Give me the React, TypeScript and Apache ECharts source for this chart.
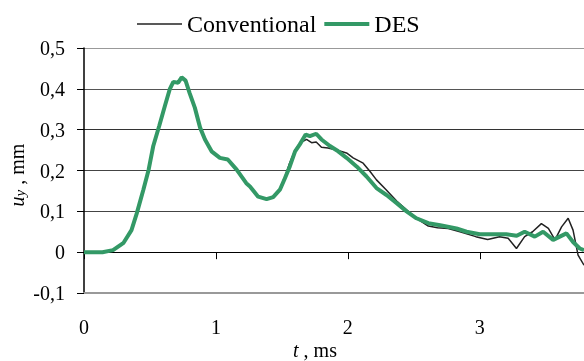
import React, { useEffect, useRef } from "react";
import * as echarts from "echarts";

// time (ms) and displacement (mm)
const tConventional = [0, 0.14, 0.22, 0.3, 0.36, 0.4, 0.45, 0.49, 0.525, 0.57, 0.613, 0.65, 0.677, 0.714, 0.74, 0.77, 0.8, 0.84, 0.88, 0.917, 0.967, 1.03, 1.09, 1.157, 1.23, 1.258, 1.32, 1.384, 1.434, 1.485, 1.523, 1.555, 1.6, 1.636, 1.687, 1.725, 1.76, 1.8, 1.85, 1.914, 1.99, 2.04, 2.116, 2.167, 2.217, 2.29, 2.37, 2.445, 2.52, 2.61, 2.68, 2.76, 2.85, 2.97, 3.06, 3.15, 3.215, 3.278, 3.34, 3.4, 3.467, 3.52, 3.57, 3.62, 3.67, 3.707, 3.745, 3.79];
const uConventional = [0, 0, 0.005, 0.023, 0.054, 0.095, 0.153, 0.202, 0.26, 0.309, 0.358, 0.399, 0.417, 0.415, 0.428, 0.42, 0.39, 0.354, 0.305, 0.276, 0.247, 0.231, 0.227, 0.202, 0.169, 0.161, 0.136, 0.13, 0.135, 0.155, 0.185, 0.215, 0.25, 0.267, 0.276, 0.268, 0.27, 0.257, 0.255, 0.25, 0.243, 0.231, 0.218, 0.198, 0.177, 0.153, 0.125, 0.104, 0.083, 0.064, 0.06, 0.058, 0.05, 0.038, 0.031, 0.038, 0.034, 0.009, 0.038, 0.05, 0.07, 0.058, 0.03, 0.062, 0.083, 0.054, -0.007, -0.032];

const tDES = [0, 0.14, 0.22, 0.3, 0.36, 0.4, 0.45, 0.49, 0.525, 0.57, 0.613, 0.65, 0.677, 0.714, 0.74, 0.77, 0.8, 0.84, 0.88, 0.917, 0.967, 1.03, 1.09, 1.157, 1.23, 1.258, 1.32, 1.384, 1.434, 1.485, 1.523, 1.56, 1.6, 1.636, 1.68, 1.712, 1.76, 1.8, 1.864, 1.927, 1.99, 2.066, 2.14, 2.217, 2.293, 2.37, 2.445, 2.52, 2.61, 2.7, 2.823, 2.9, 3.0, 3.1, 3.2, 3.28, 3.34, 3.417, 3.48, 3.556, 3.657, 3.707, 3.758, 3.79];
const uDES = [0, 0, 0.005, 0.023, 0.054, 0.095, 0.153, 0.202, 0.26, 0.309, 0.358, 0.399, 0.417, 0.415, 0.428, 0.42, 0.39, 0.354, 0.305, 0.276, 0.247, 0.231, 0.227, 0.202, 0.169, 0.161, 0.136, 0.13, 0.135, 0.153, 0.181, 0.21, 0.247, 0.264, 0.288, 0.284, 0.29, 0.276, 0.26, 0.247, 0.231, 0.21, 0.186, 0.157, 0.14, 0.12, 0.1, 0.083, 0.071, 0.066, 0.058, 0.05, 0.044, 0.044, 0.044, 0.04, 0.05, 0.038, 0.05, 0.03, 0.046, 0.025, 0.009, 0.005];

const seriesNames = ["Conventional", "DES"];
const yTicks = { min: -0.1, max: 0.5, interval: 0.1 };
const xTicks = { min: 0, max: 3.79, interval: 1 };

const FONT = "'Liberation Serif', 'Times New Roman', serif";

export default function App() {
  const ref = useRef<HTMLDivElement>(null);
  useEffect(() => {
    if (!ref.current) return;
    const chart = echarts.init(ref.current, undefined, { renderer: "svg" });
    const zip = (t: number[], u: number[]) => t.map((v, i) => [v, u[i]]);
    const xFmt = (v: number) =>
      Math.abs(v - Math.round(v)) < 1e-6 ? String(Math.round(v)) : "";
    const yFmt = (v: number) => {
      const r = Math.round(v * 10) / 10;
      return r === 0 ? "0" : r.toFixed(1).replace(".", ",");
    };
    chart.setOption({
      animation: false,
      textStyle: { fontFamily: FONT },
      grid: { left: 84, right: 0, top: 48, bottom: 68, containLabel: false },
      legend: {
        left: 132,
        top: 7,
        itemWidth: 45,
        itemHeight: 14,
        itemGap: 8,
        symbolKeepAspect: true,
        data: [
          { name: seriesNames[0], icon: "path://M0,0H45V1.5H0Z", itemStyle: { color: "#222" } },
          { name: seriesNames[1], icon: "path://M0,0H45V4H0Z", itemStyle: { color: "#339966" } },
        ],
        textStyle: { fontFamily: FONT, fontSize: 24, color: "#000" },
      },
      xAxis: [
        {
          type: "value",
          min: xTicks.min,
          max: xTicks.max,
          interval: xTicks.interval,
          axisLine: { onZero: false, lineStyle: { color: "#999", width: 2 } },
          axisTick: { show: false },
          splitLine: { show: false },
          axisLabel: {
            formatter: xFmt,
            showMaxLabel: false,
            margin: 34,
            verticalAlign: "middle",
            fontFamily: FONT,
            fontSize: 20,
            color: "#000",
          },
        },
        {
          type: "value",
          position: "bottom",
          min: xTicks.min,
          max: xTicks.max,
          interval: xTicks.interval,
          axisLine: { onZero: true, lineStyle: { color: "#000", width: 1 } },
          axisTick: { show: true, length: 7, lineStyle: { color: "#000", width: 1 } },
          splitLine: { show: false },
          axisLabel: { show: false },
        },
      ],
      yAxis: {
        type: "value",
        min: yTicks.min,
        max: yTicks.max,
        interval: yTicks.interval,
        axisLine: { show: true, lineStyle: { color: "#000", width: 1.5 } },
        axisTick: { show: true, length: 7, lineStyle: { color: "#000", width: 1 } },
        splitLine: {
          show: true,
          lineStyle: {
            color: ["#999", "#222", "#444", "#444", "#333", "#555", "#999"],
            width: 1,
          },
        },
        axisLabel: {
          formatter: yFmt,
          margin: 19,
          padding: [7, 0, 0, 0],
          fontFamily: FONT,
          fontSize: 20,
          color: "#000",
        },
      },
      graphic: [
        {
          type: "text",
          x: 315,
          y: 350,
          style: {
            text: "{i|t} , ms",
            align: "center",
            verticalAlign: "middle",
            fontFamily: FONT,
            fontSize: 20,
            fill: "#000",
            rich: { i: { fontStyle: "italic", fontFamily: FONT, fontSize: 20 } },
          },
        },
        {
          type: "text",
          x: 17,
          y: 175,
          rotation: Math.PI / 2,
          style: {
            text: "{i|u}{s|y} , mm",
            align: "center",
            verticalAlign: "middle",
            fontFamily: FONT,
            fontSize: 20,
            fill: "#000",
            rich: {
              i: { fontStyle: "italic", fontFamily: FONT, fontSize: 20 },
              s: { fontStyle: "italic", fontFamily: FONT, fontSize: 15, verticalAlign: "bottom" },
            },
          },
        },
      ],
      series: [
        {
          name: seriesNames[0],
          type: "line",
          xAxisIndex: 0,
          data: zip(tConventional, uConventional),
          symbol: "none",
          lineStyle: { color: "#222", width: 1.5 },
          itemStyle: { color: "#222" },
          z: 2,
        },
        {
          name: seriesNames[1],
          type: "line",
          xAxisIndex: 0,
          data: zip(tDES, uDES),
          symbol: "none",
          lineStyle: { color: "#339966", width: 4 },
          itemStyle: { color: "#339966" },
          z: 3,
        },
      ],
    });
    return () => chart.dispose();
  }, []);
  return (
    <div
      ref={ref}
      style={{ position: "fixed", left: 0, top: 0, width: 584, height: 361 }}
    />
  );
}
